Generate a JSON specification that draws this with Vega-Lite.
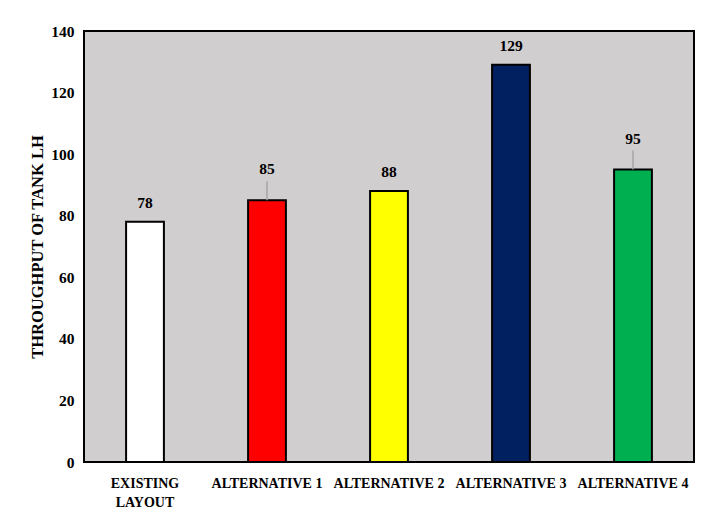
{
  "$schema": "https://vega.github.io/schema/vega-lite/v6.json",
  "width": 610,
  "height": 431,
  "autosize": {"type": "none"},
  "padding": {"left": 84, "top": 31, "right": 20, "bottom": 60},
  "background": "white",
  "config": {
    "font": "Liberation Serif",
    "view": {"fill": "#D0CECE", "stroke": "#000000", "strokeWidth": 2}
  },
  "data": {
    "values": [
      {"layout": "EXISTING LAYOUT", "throughput": 78},
      {"layout": "ALTERNATIVE 1", "throughput": 85},
      {"layout": "ALTERNATIVE 2", "throughput": 88},
      {"layout": "ALTERNATIVE 3", "throughput": 129},
      {"layout": "ALTERNATIVE 4", "throughput": 95}
    ]
  },
  "encoding": {
    "x": {
      "field": "layout",
      "type": "nominal",
      "sort": null,
      "scale": {"paddingInner": 0.69, "paddingOuter": 0.345},
      "axis": {
        "title": null,
        "labelAngle": 0,
        "labelFont": "Liberation Serif",
        "labelFontWeight": "bold",
        "labelFontSize": 14,
        "labelColor": "#000000",
        "labelPadding": 14,
        "labelLineHeight": 19,
        "labelExpr": "datum.value == 'EXISTING LAYOUT' ? ['EXISTING', 'LAYOUT'] : datum.value",
        "ticks": false,
        "domain": false
      }
    }
  },
  "layer": [
    {
      "mark": {"type": "bar", "stroke": "#000000", "strokeWidth": 2},
      "encoding": {
        "y": {
          "field": "throughput",
          "type": "quantitative",
          "scale": {"domain": [0, 140]},
          "axis": {
            "title": "THROUGHPUT OF TANK LH",
            "titleFont": "Liberation Serif",
            "titleFontWeight": "bold",
            "titleFontSize": 16.5,
            "titleColor": "#000000",
            "titlePadding": 5,
            "values": [0, 20, 40, 60, 80, 100, 120, 140],
            "labelFont": "Liberation Serif",
            "labelFontWeight": "bold",
            "labelFontSize": 15.5,
            "labelColor": "#000000",
            "labelPadding": 10,
            "ticks": false,
            "grid": false,
            "domain": false
          }
        },
        "fill": {
          "field": "layout",
          "type": "nominal",
          "scale": {
            "domain": ["EXISTING LAYOUT", "ALTERNATIVE 1", "ALTERNATIVE 2", "ALTERNATIVE 3", "ALTERNATIVE 4"],
            "range": ["#FFFFFF", "#FF0000", "#FFFF00", "#002060", "#00B050"]
          },
          "legend": null
        }
      }
    },
    {
      "transform": [{"filter": "datum.throughput == 85 || datum.throughput == 95"}],
      "mark": {"type": "rule", "color": "#A6A6A6", "strokeWidth": 1.5, "y2Offset": -19},
      "encoding": {
        "y": {"field": "throughput", "type": "quantitative"},
        "y2": {"field": "throughput"}
      }
    },
    {
      "transform": [{"filter": "datum.throughput == 85 || datum.throughput == 95"}],
      "mark": {"type": "text", "font": "Liberation Serif", "fontWeight": "bold", "fontSize": 15.5, "color": "#000000", "baseline": "middle", "dy": -31},
      "encoding": {
        "y": {"field": "throughput", "type": "quantitative"},
        "text": {"field": "throughput", "type": "quantitative"}
      }
    },
    {
      "transform": [{"filter": "datum.throughput != 85 && datum.throughput != 95"}],
      "mark": {"type": "text", "font": "Liberation Serif", "fontWeight": "bold", "fontSize": 15.5, "color": "#000000", "baseline": "middle", "dy": -19},
      "encoding": {
        "y": {"field": "throughput", "type": "quantitative"},
        "text": {"field": "throughput", "type": "quantitative"}
      }
    }
  ]
}
